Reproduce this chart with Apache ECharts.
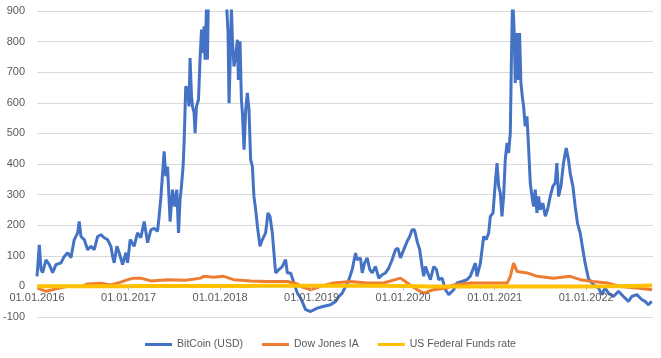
<!DOCTYPE html>
<html>
<head>
<meta charset="utf-8">
<script src="https://cdn.jsdelivr.net/npm/echarts@6/dist/echarts.min.js"></script>
<style>html,body{margin:0;padding:0;background:#fff}#c{width:661px;height:358px}</style>
</head>
<body>
<div id="c"></div>
<script>
// time as decimal years
const btcT = [2016.000,2016.025,2016.044,2016.062,2016.098,2016.134,2016.171,2016.207,2016.262,2016.298,2016.335,2016.371,2016.407,2016.444,2016.461,2016.480,2016.516,2016.553,2016.589,2016.625,2016.662,2016.698,2016.734,2016.771,2016.807,2016.826,2016.843,2016.873,2016.898,2016.935,2016.971,2016.989,
2017.018,2017.061,2017.098,2017.134,2017.171,2017.208,2017.244,2017.280,2017.317,2017.334,2017.353,2017.389,2017.407,2017.426,2017.454,2017.480,2017.505,2017.527,2017.546,2017.563,2017.578,2017.596,2017.607,2017.625,2017.644,2017.661,2017.672,2017.688,2017.699,2017.716,2017.727,2017.742,2017.764,2017.781,2017.797,2017.814,2017.825,2017.836,2017.851,2017.862,2017.873,2017.898,2017.942,2017.985,
2018.029,2018.062,2018.073,2018.087,2018.098,2018.109,2018.124,2018.135,2018.152,2018.171,2018.189,2018.200,2018.218,2018.233,2018.244,2018.262,2018.280,2018.298,2018.316,2018.334,2018.353,2018.370,2018.389,2018.408,2018.436,2018.462,2018.498,2018.523,2018.545,2018.571,2018.589,2018.607,2018.643,2018.680,2018.716,2018.735,2018.771,2018.807,2018.844,2018.880,2018.934,2018.989,
2019.062,2019.134,2019.207,2019.262,2019.298,2019.335,2019.371,2019.407,2019.444,2019.480,2019.498,2019.534,2019.553,2019.578,2019.607,2019.636,2019.662,2019.698,2019.734,2019.771,2019.807,2019.843,2019.880,2019.916,2019.942,2019.971,
2020.007,2020.044,2020.072,2020.098,2020.124,2020.153,2020.181,2020.207,2020.225,2020.244,2020.269,2020.298,2020.334,2020.364,2020.389,2020.426,2020.462,2020.498,2020.552,2020.589,2020.644,2020.698,2020.734,2020.789,2020.807,2020.844,2020.880,2020.909,2020.935,2020.953,2020.982,
2021.007,2021.026,2021.044,2021.062,2021.080,2021.098,2021.116,2021.135,2021.153,2021.171,2021.182,2021.196,2021.214,2021.225,2021.244,2021.261,2021.272,2021.287,2021.302,2021.316,2021.334,2021.353,2021.370,2021.389,2021.408,2021.425,2021.443,2021.462,2021.480,2021.498,2021.527,2021.553,2021.578,2021.607,2021.636,2021.662,2021.680,2021.698,2021.724,2021.752,2021.782,2021.807,2021.825,2021.855,2021.880,2021.905,2021.934,2021.964,2021.989,
2022.025,2022.080,2022.134,2022.171,2022.207,2022.243,2022.298,2022.353,2022.407,2022.462,2022.498,2022.553,2022.607,2022.643,2022.680,2022.716];
const btcV = [33,136,55,45,87,71,45,71,77,98,110,94,153,175,212,163,153,120,131,120,163,169,159,153,131,98,77,131,110,71,110,77,
153,131,175,159,212,143,185,190,180,229,290,441,360,392,212,316,261,316,175,283,327,392,469,654,643,588,746,621,588,567,501,588,610,741,839,763,850,741,910,741,950,1100,1400,1700,
1300,1000,910,829,599,719,910,806,719,752,806,675,801,610,567,447,577,632,577,414,392,294,251,196,131,153,175,240,229,175,109,44,55,65,87,44,44,11,-22,-38,-76,-82,
-71,-65,-60,-49,-33,-22,0,22,55,109,87,93,44,76,93,55,44,65,27,38,44,60,87,120,125,93,
120,147,163,185,185,147,120,65,33,65,44,22,65,55,22,27,-11,-27,-11,11,16,22,33,76,33,76,163,153,175,229,240,
338,403,327,305,229,294,414,469,436,501,719,950,828,665,828,675,828,665,621,588,523,556,458,338,294,261,316,240,294,251,272,229,251,294,327,338,403,294,327,403,452,414,370,327,261,207,175,120,76,
25,5,-5,-27,-5,-22,-33,-16,-33,-49,-33,-27,-43,-49,-60,-49];

const djT = [2016.000,2016.044,2016.098,2016.207,2016.338,2016.480,2016.553,2016.698,2016.807,2016.916,2016.993,2017.058,2017.134,2017.244,2017.429,2017.625,2017.789,2017.822,2017.931,2018.040,2018.149,2018.334,2018.520,2018.738,2018.847,2018.880,2018.989,2019.098,2019.240,2019.425,2019.611,2019.785,2019.971,2020.047,2020.156,2020.222,2020.331,2020.484,2020.549,2020.734,2020.920,2021.138,2021.171,2021.207,2021.244,2021.356,2021.465,2021.640,2021.825,2021.934,2022.076,2022.229,2022.371,2022.556,2022.720];
const djV = [-5,-10,-16,-8,0,0,8,10,5,14,22,27,27,18,22,20,27,33,30,33,22,18,16,16,8,0,-11,0,11,16,11,11,27,11,-11,-22,-11,-5,5,11,11,11,33,76,49,44,33,27,33,22,16,11,0,-5,-11];

const ffT = [2016.000,2016.950,2017.200,2017.450,2017.950,2018.250,2018.450,2018.700,2018.980,2019.550,2019.800,2020.000,2020.180,2020.250,2021.000,2022.000,2022.230,2022.380,2022.480,2022.600,2022.720];
const ffV = [0.36,0.41,0.9,1.15,1.41,1.68,1.91,2.19,2.40,2.40,1.85,1.55,0.65,0.05,0.08,0.08,0.33,0.77,1.58,2.33,2.56];

const yTicks = {min: -100, max: 900, step: 100};
const xRange = {min: 2016, max: 2022.73};
const names = ['BitCoin (USD)', 'Dow Jones IA', 'US Federal Funds rate'];

const zip = (t, v) => t.map((x, i) => [x, v[i]]);
const font = 'Liberation Sans, Arial, sans-serif';

const gridTop = 11, gridBottom = 41, chartH = 358;
const plotH = chartH - gridTop - gridBottom;
// distance of the zero line above the plot bottom, derived from the y scale
const zeroOffset = plotH * (0 - yTicks.min) / (yTicks.max - yTicks.min);

const chart = echarts.init(document.getElementById('c'), null, {renderer: 'canvas'});
chart.setOption({
  animation: false,
  backgroundColor: '#fff',
  color: ['#4472C4', '#ED7D31', '#FFC000'],
  grid: {left: 36, right: 8, top: gridTop, bottom: gridBottom},
  legend: {
    data: names,
    bottom: 3,
    left: 'center',
    icon: 'rect',
    itemWidth: 27,
    itemHeight: 3,
    itemGap: 19,
    textStyle: {color: '#595959', fontSize: 10.5, fontFamily: font}
  },
  xAxis: {
    type: 'value',
    min: xRange.min,
    max: xRange.max,
    interval: 1,
    position: 'bottom',
    offset: -zeroOffset,
    z: 5,
    axisLine: {show: false, onZero: false},
    axisTick: {show: true, length: 4, lineStyle: {color: '#bfbfbf'}},
    splitLine: {show: false},
    axisLabel: {
      color: '#595959', fontSize: 11, fontFamily: font, margin: 6,
      showMaxLabel: false,
      formatter: v => Number.isInteger(v) ? '01.01.' + v : ''
    }
  },
  yAxis: {
    type: 'value',
    min: yTicks.min,
    max: yTicks.max,
    interval: yTicks.step,
    axisLine: {show: false},
    axisTick: {show: false},
    splitLine: {lineStyle: {color: '#d9d9d9', width: 1}},
    axisLabel: {color: '#595959', fontSize: 11, fontFamily: font, margin: 12}
  },
  series: [
    {name: names[0], type: 'line', data: zip(btcT, btcV), symbol: 'none', lineStyle: {width: 3}, clip: true, z: 2},
    {name: names[1], type: 'line', data: zip(djT, djV), symbol: 'none', lineStyle: {width: 3}, clip: true, z: 3},
    {name: names[2], type: 'line', data: zip(ffT, ffV), symbol: 'none', lineStyle: {width: 4}, clip: true, z: 4}
  ]
});
</script>
</body>
</html>
